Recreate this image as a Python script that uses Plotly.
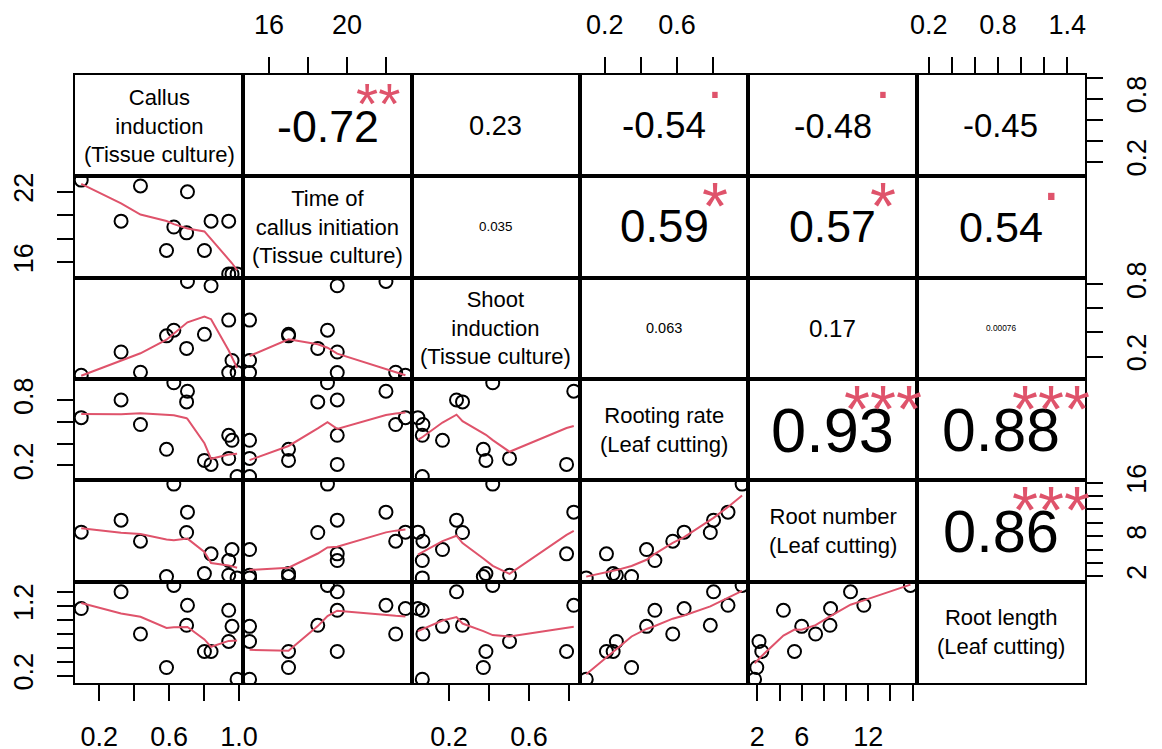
import numpy as np
import plotly.graph_objects as go

callus_induction = [0.989, 0.840, 0.802, 0.941, 0.585, 0.960, 0.941, 0.436, 0.097, 0.700, 0.325, 0.705, 0.627]
time_callus_init = [15.0, 19.5, 17.0, 15.0, 17.0, 15.0, 19.5, 22.5, 23.0, 18.5, 19.5, 22.0, 19.0]
shoot_induction = [0.067, 0.788, 0.385, 0.503, 0.372, 0.168, 0.067, 0.070, 0.045, 0.268, 0.238, 0.824, 0.419]
rooting_rate = [0.098, 0.210, 0.247, 0.265, 0.349, 0.432, 0.478, 0.577, 0.640, 0.785, 0.803, 0.883, 0.961]
root_number = [1.75, 5.35, 2.40, 2.15, 1.95, 6.00, 4.35, 7.25, 8.60, 8.55, 10.40, 11.60, 15.80]
root_length = [0.150, 0.550, 0.550, 0.694, 0.319, 0.911, 1.142, 0.801, 1.167, 0.926, 1.408, 1.214, 1.500]

var_labels = [
    "Callus<br>induction<br>(Tissue culture)",
    "Time of<br>callus initiation<br>(Tissue culture)",
    "Shoot<br>induction<br>(Tissue culture)",
    "Rooting rate<br>(Leaf cutting)",
    "Root number<br>(Leaf cutting)",
    "Root length<br>(Leaf cutting)",
]

# correlation labels printed in the upper panels (row by row) and significance marks
cor_row1 = ["-0.72", "0.23", "-0.54", "-0.48", "-0.45"]
cor_row2 = ["0.035", "0.59", "0.57", "0.54"]
cor_row3 = ["0.063", "0.17", "0.00076"]
cor_row4 = ["0.93", "0.88"]
cor_row5 = ["0.86"]
sig_row1 = ["**", "", ".", ".", ""]
sig_row2 = ["", "*", "*", "."]
sig_row3 = ["", "", ""]
sig_row4 = ["***", "***"]
sig_row5 = ["***"]

# tick values / labels of each variable's axis (outer x axes / outer y axes)
x_tickvals = [[0.2, 0.4, 0.6, 0.8, 1.0], [16, 18, 20, 22], [0.2, 0.4, 0.6, 0.8],
              [0.2, 0.4, 0.6, 0.8], [2, 4, 6, 8, 10, 12, 14, 16],
              [0.2, 0.4, 0.6, 0.8, 1.0, 1.2, 1.4]]
x_ticktext = [["0.2", "", "0.6", "", "1.0"], ["16", "", "20", ""], ["0.2", "", "0.6", ""],
              ["0.2", "", "0.6", ""], ["2", "", "6", "", "", "12", "", ""],
              ["0.2", "", "", "0.8", "", "", "1.4"]]
y_tickvals = x_tickvals
y_ticktext = [["0.2", "", "", "0.8", ""], ["16", "", "", "22"], ["0.2", "", "", "0.8"],
              ["0.2", "", "", "0.8"], ["2", "", "", "8", "", "", "", "16"],
              ["0.2", "", "", "", "", "1.2", ""]]

data = [callus_induction, time_callus_init, shoot_induction, rooting_rate, root_number, root_length]
cor_rows = [cor_row1, cor_row2, cor_row3, cor_row4, cor_row5]
sig_rows = [sig_row1, sig_row2, sig_row3, sig_row4, sig_row5]

# ---------------- R's lowess (clowess port), as used by panel.smooth ----------------
def r_lowess(x, y, f=2 / 3, nsteps=3):
    x = np.asarray(x, float)
    y = np.asarray(y, float)
    o = np.argsort(x, kind="mergesort")
    x = x[o]
    y = y[o]
    n = len(x)
    delta = 0.01 * (x[-1] - x[0])
    X = np.concatenate([[0.0], x])
    Y = np.concatenate([[0.0], y])
    ys = np.zeros(n + 1)
    rw = np.ones(n + 1)
    w = np.zeros(n + 2)
    ns = max(2, min(n, int(f * n + 1e-7)))

    def lowest(xs, nleft, nright, userw):
        rng = X[n] - X[1]
        h = max(xs - X[nleft], X[nright] - xs)
        h9, h1 = 0.999 * h, 0.001 * h
        a = 0.0
        j = nleft
        while j <= n:
            w[j] = 0.0
            r = abs(X[j] - xs)
            if r <= h9:
                w[j] = 1.0 if r <= h1 else (1 - (r / h) ** 3) ** 3
                if userw:
                    w[j] *= rw[j]
                a += w[j]
            elif X[j] > xs:
                break
            j += 1
        nrt = j - 1
        if a <= 0:
            return None
        idx = range(nleft, nrt + 1)
        for j in idx:
            w[j] /= a
        if h > 0:
            a = sum(w[j] * X[j] for j in idx)
            b = xs - a
            c = sum(w[j] * (X[j] - a) ** 2 for j in idx)
            if np.sqrt(c) > 0.001 * rng:
                b /= c
                for j in idx:
                    w[j] *= (b * (X[j] - a) + 1.0)
        return sum(w[j] * Y[j] for j in idx)

    it = 1
    while it <= nsteps + 1:
        nleft, nright, last, i = 1, ns, 0, 1
        while True:
            if nright < n:
                d1 = X[i] - X[nleft]
                d2 = X[nright + 1] - X[i]
                if d1 > d2:
                    nleft += 1
                    nright += 1
                    continue
            val = lowest(X[i], nleft, nright, it > 1)
            ys[i] = Y[i] if val is None else val
            if last < i - 1:
                denom = X[i] - X[last]
                for j in range(last + 1, i):
                    alpha = (X[j] - X[last]) / denom
                    ys[j] = alpha * ys[i] + (1 - alpha) * ys[last]
            last = i
            cut = X[last] + delta
            i = last + 1
            while i <= n:
                if X[i] > cut:
                    break
                if X[i] == X[last]:
                    ys[i] = ys[last]
                    last = i
                i += 1
            i = max(last + 1, i - 1)
            if last >= n:
                break
        resid = Y[1:] - ys[1:]
        sc = np.mean(np.abs(resid))
        if it > nsteps:
            break
        ar = np.abs(resid)
        srt = np.sort(ar)
        m1 = n // 2
        if n % 2 == 0:
            cmad = 3 * (srt[m1] + srt[n - m1 - 1])
        else:
            cmad = 6 * srt[m1]
        if cmad < 1e-7 * sc:
            break
        c9, c1 = 0.999 * cmad, 0.001 * cmad
        for k in range(n):
            r = ar[k]
            rw[k + 1] = 1.0 if r <= c1 else ((1 - (r / cmad) ** 2) ** 2 if r <= c9 else 0.0)
        it += 1
    return x, ys[1:]


# ---------------- figure ----------------
# the page body has an 8px margin, so the figure is 16px smaller than the window
W, H = 1154, 741
ML, MR, MT, MB = 67, 77, 67, 66
NV = 6
panel_w = (W - ML - MR) / NV
FONT = "Liberation Sans, Arial, sans-serif"
RED = "#DF536B"

GLYPH_W = {c: 0.556 for c in "0123456789"}
GLYPH_W.update({".": 0.278, "-": 0.333})


def em_width(s):
    return sum(GLYPH_W.get(ch, 0.556) for ch in s)


def rng(v):
    lo, hi = min(v), max(v)
    pad = 0.04 * (hi - lo)
    return [lo - pad, hi + pad]


ranges = [rng(v) for v in data]

fig = go.Figure()
layout = dict(
    width=W, height=H,
    margin=dict(l=ML, r=MR, t=MT, b=MB, pad=0, autoexpand=False),
    paper_bgcolor="white", plot_bgcolor="white",
    showlegend=False,
    font=dict(family=FONT, color="black"),
)
annotations = []

for r in range(NV):
    for c in range(NV):
        k = r * NV + c + 1
        sfx = "" if k == 1 else str(k)
        common = dict(showgrid=False, zeroline=False, showline=True, linecolor="black",
                      linewidth=2, mirror=True, ticks="", showticklabels=False,
                      automargin=False, fixedrange=True)
        xa = dict(domain=[c / NV, (c + 1) / NV], anchor=f"y{sfx}", range=ranges[c], **common)
        ya = dict(domain=[1 - (r + 1) / NV, 1 - r / NV], anchor=f"x{sfx}", range=ranges[r], **common)
        tick_style = dict(ticks="outside", ticklen=16, tickwidth=2, tickcolor="black",
                          showticklabels=True, tickfont=dict(family=FONT, size=27, color="black"))
        if r == 0 and c % 2 == 1:
            xa.update(tick_style, side="top", tickvals=x_tickvals[c], ticktext=x_ticktext[c],
                      ticklabelstandoff=12)
        if r == NV - 1 and c % 2 == 0:
            xa.update(tick_style, side="bottom", tickvals=x_tickvals[c], ticktext=x_ticktext[c],
                      ticklabelstandoff=13)
        if c == 0 and r % 2 == 1:
            ya.update(tick_style, side="left", tickvals=y_tickvals[r], ticktext=y_ticktext[r],
                      tickangle=-90, ticklabelstandoff=13)
        if c == NV - 1 and r % 2 == 0:
            ya.update(tick_style, side="right", tickvals=y_tickvals[r], ticktext=y_ticktext[r],
                      tickangle=-90, ticklabelstandoff=11)
        layout[f"xaxis{sfx}"] = xa
        layout[f"yaxis{sfx}"] = ya

        if r > c:
            xs, ys = data[c], data[r]
            fig.add_trace(go.Scatter(
                x=xs, y=ys, mode="markers", xaxis=f"x{sfx}", yaxis=f"y{sfx}",
                marker=dict(symbol="circle-open", size=13, color="black",
                            line=dict(width=2, color="black")),
                hoverinfo="skip",
            ))
            lx, ly = r_lowess(xs, ys)
            fig.add_trace(go.Scatter(
                x=lx, y=ly, mode="lines", xaxis=f"x{sfx}", yaxis=f"y{sfx}",
                line=dict(color=RED, width=2), hoverinfo="skip",
            ))
        elif r == c:
            fig.add_trace(go.Scatter(x=[None], y=[None], xaxis=f"x{sfx}", yaxis=f"y{sfx}",
                                     mode="markers", hoverinfo="skip"))
            annotations.append(dict(
                xref=f"x{sfx} domain", yref=f"y{sfx} domain", x=0.5, y=0.5,
                xanchor="center", yanchor="middle",
                text=var_labels[r], showarrow=False, align="center",
                font=dict(family=FONT, size=22, color="black"),
            ))
        else:
            fig.add_trace(go.Scatter(x=[None], y=[None], xaxis=f"x{sfx}", yaxis=f"y{sfx}",
                                     mode="markers", hoverinfo="skip"))
            txt = cor_rows[r][c - r - 1]
            sig = sig_rows[r][c - r - 1]
            base = 0.965 * 0.8 * panel_w / em_width(txt)
            size = base * (abs(float(txt)) + 0.3) / 1.3
            annotations.append(dict(
                xref=f"x{sfx} domain", yref=f"y{sfx} domain", x=0.5, y=0.5,
                xanchor="center", yanchor="middle",
                text=txt, showarrow=False,
                font=dict(family=FONT, size=size, color="black"),
            ))
            if sig:
                shift = 0.30 * base if sig == "." else -0.145 * base
                annotations.append(dict(
                    xref=f"x{sfx} domain", yref=f"y{sfx} domain", x=0.8, y=0.8,
                    xanchor="center", yanchor="middle",
                    text=sig, showarrow=False, yshift=shift,
                    font=dict(family=FONT, size=base, color=RED),
                ))

layout["annotations"] = annotations
fig.update_layout(**layout)
fig.write_html("out.html")
